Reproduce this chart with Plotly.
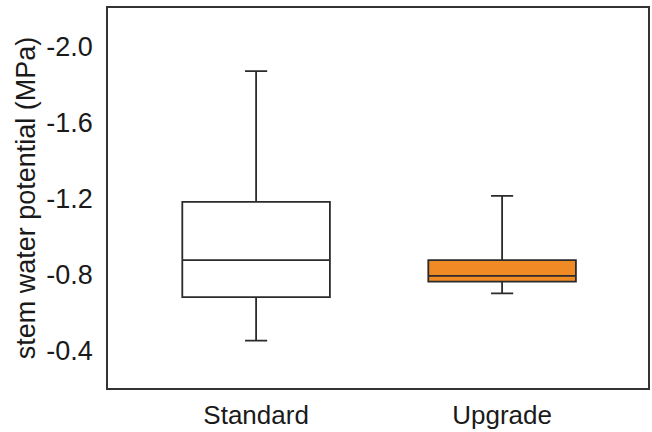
import plotly.graph_objects as go

categories = ["Standard", "Upgrade"]
# values in MPa (more negative = more stress)
most_negative_whisker = [-1.873, -1.214]
q_more_negative = [-1.183, -0.875]
median_vals = [-0.875, -0.792]
q_less_negative = [-0.68, -0.762]
least_negative_whisker = [-0.45, -0.70]
fill_colors = ["#FFFFFF", "#F08A24"]
y_ticks = [-2.0, -1.6, -1.2, -0.8, -0.4]
y_tick_labels = ["-2.0", "-1.6", "-1.2", "-0.8", "-0.4"]

fig = go.Figure()
for i, cat in enumerate(categories):
    fig.add_trace(go.Box(
        x=[i],
        q1=[q_more_negative[i]],
        median=[median_vals[i]],
        q3=[q_less_negative[i]],
        lowerfence=[most_negative_whisker[i]],
        upperfence=[least_negative_whisker[i]],
        fillcolor=fill_colors[i],
        line=dict(color="#2b2b2b", width=1.8),
        width=0.6,
        whiskerwidth=0.15,
        boxpoints=False,
        hoverinfo="skip",
        showlegend=False,
    ))

axis_font = dict(family="Liberation Sans, Arial, sans-serif", size=27, color="#1a1a1a")
xtick_font = dict(family="Liberation Sans, Arial, sans-serif", size=26, color="#1a1a1a")

fig.update_layout(
    width=652, height=432,
    margin=dict(l=108, r=4, t=8, b=44),
    paper_bgcolor="white",
    plot_bgcolor="white",
    xaxis=dict(
        range=[-0.602, 1.593],
        tickmode="array",
        tickvals=[0, 1],
        ticktext=categories,
        showgrid=False, zeroline=False,
        showline=True, mirror=True, linecolor="#333333", linewidth=1.6,
        ticks="", tickfont=xtick_font, ticklabelstandoff=3,
        automargin=False,
    ),
    yaxis=dict(
        range=[-0.2, -2.206],
        tickmode="array",
        tickvals=y_ticks,
        ticktext=y_tick_labels,
        showgrid=False, zeroline=False,
        showline=True, mirror=True, linecolor="#333333", linewidth=1.6,
        ticks="", tickfont=axis_font, ticklabelstandoff=8,
        title=dict(text="stem water potential (MPa)", font=axis_font, standoff=3),
        automargin=False,
    ),
)

fig.write_html("out.html")
